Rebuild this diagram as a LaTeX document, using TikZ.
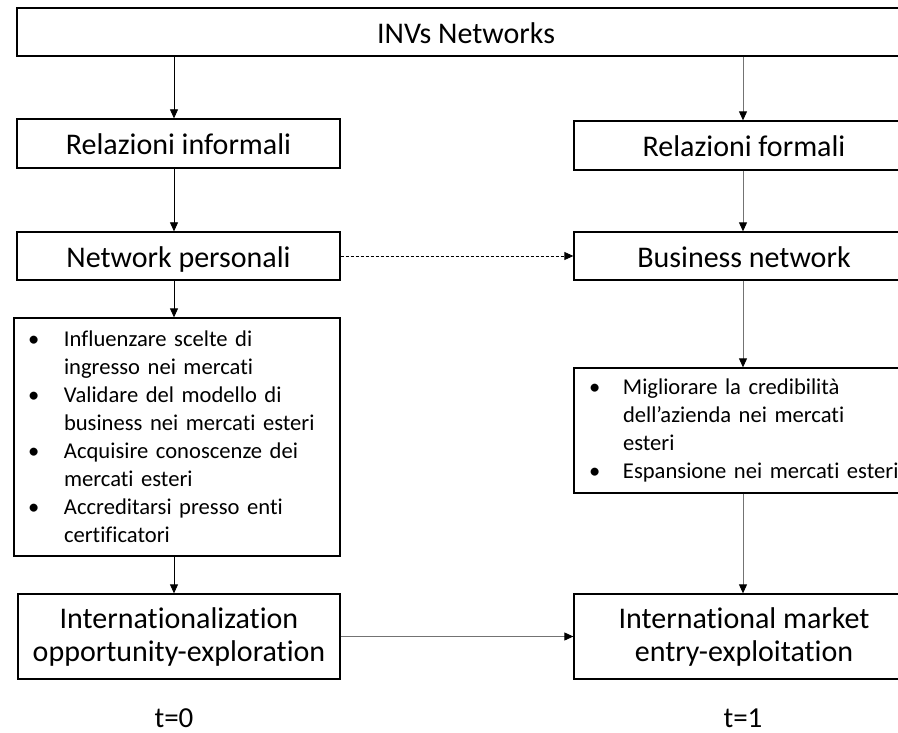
\documentclass[tikz,border=0pt]{standalone}
\usepackage{fontspec}
\setmainfont{Carlito}[Ligatures=NoCommon]
\usetikzlibrary{arrows.meta}
\begin{document}
\begin{tikzpicture}[x=1pt,y=-1pt,
  box/.style={draw=black,line width=1.3pt,inner sep=0pt,font=\fontsize{30}{33}\selectfont,align=center},
  onebox/.style={draw=black,line width=1.3pt,inner sep=0pt,font=\fontsize{30}{33}\selectfont,text height=23pt,text depth=0pt},
  bulbox/.style={draw=black,line width=1.3pt,inner ysep=0pt,font=\fontsize{22.6}{28}\selectfont,align=left},
  arr/.style={-{Triangle[length=9pt,width=8pt]},line width=0.8pt,draw=black},
  garr/.style={-{Triangle[length=9pt,width=8pt,color=black]},line width=0.9pt,draw=black!55},
  lbl/.style={font=\fontsize{29}{33}\selectfont,inner sep=0pt,anchor=base}]
\useasboundingbox (0,0) rectangle (898,733);
\begin{scope}
\clip (0,0) rectangle (898,733);
\node[onebox,minimum width=898pt,minimum height=48pt] (inv) at (466,32) {INVs Networks};
\node[onebox,minimum width=323pt,minimum height=49pt] (rinf) at (178.5,143.5) {Relazioni informali};
\node[onebox,minimum width=340pt,minimum height=49pt] (rfor) at (744,145.5) {Relazioni formali};
\node[onebox,minimum width=323pt,minimum height=48pt] (npers) at (178.5,256) {Network personali};
\node[onebox,minimum width=340pt,minimum height=48pt] (bnet) at (744,256) {Business network};
\node[bulbox,inner xsep=14pt,text width=298pt,minimum height=238pt] (lbul) at (177,437) {%
\makebox[36pt][l]{•}Influenzare scelte di\\
\hspace*{36pt}ingresso nei mercati\\
\makebox[36pt][l]{•}Validare del modello di\\
\hspace*{36pt}business nei mercati esteri\\
\makebox[36pt][l]{•}Acquisire conoscenze dei\\
\hspace*{36pt}mercati esteri\\
\makebox[36pt][l]{•}Accreditarsi presso enti\\
\hspace*{36pt}certificatori};
\node[bulbox,inner xsep=15pt,text width=310pt,minimum height=125pt] (rbul) at (744,430.5) {%
\makebox[34pt][l]{•}Migliorare la credibilità\\
\hspace*{34pt}dell’azienda nei mercati\\
\hspace*{34pt}esteri\\
\makebox[34pt][l]{•}Espansione nei mercati esteri};
\node[box,minimum width=322pt,minimum height=85pt] (iexp) at (179,636.5) {Internationalization\\opportunity-exploration};
\node[box,minimum width=340pt,minimum height=85pt] (imkt) at (744,636.5) {International market\\entry-exploitation};
\node[lbl] (t0) at (174,727) {t=0};
\node[lbl] (t1) at (743,727) {t=1};
\draw[arr] (inv.south -| t0) -- (rinf.north -| t0);
\draw[arr] (rinf.south -| t0) -- (npers.north -| t0);
\draw[arr] (npers.south -| t0) -- (lbul.north -| t0);
\draw[arr] (lbul.south -| t0) -- (iexp.north -| t0);
\draw[garr] (inv.south -| t1) -- (rfor.north -| t1);
\draw[garr] (rfor.south -| t1) -- (bnet.north -| t1);
\draw[garr] (bnet.south -| t1) -- (rbul.north -| t1);
\draw[garr] (rbul.south -| t1) -- (imkt.north -| t1);
\draw[arr,dash pattern=on 3pt off 2pt] (npers.east) -- (bnet.west);
\draw[garr] (iexp.east) -- (imkt.west);
\end{scope}
\end{tikzpicture}
\end{document}
